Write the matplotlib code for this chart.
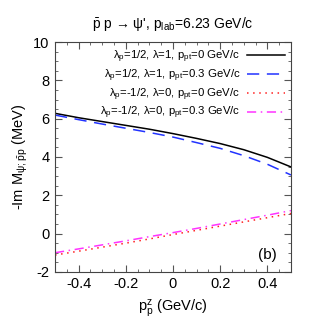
import numpy as np
import matplotlib
matplotlib.use("Agg")
import matplotlib.pyplot as plt
from matplotlib.ticker import MultipleLocator

plt.rcParams['font.family'] = ['Liberation Sans', 'DejaVu Sans']
plt.rcParams['mathtext.fontset'] = 'custom'
plt.rcParams['mathtext.rm'] = 'Liberation Sans'
plt.rcParams['mathtext.it'] = 'Liberation Sans:italic'
plt.rcParams['mathtext.default'] = 'regular'

# data
pz = [-0.5, -0.4, -0.3, -0.2, -0.1, 0.0, 0.1, 0.2, 0.3, 0.4, 0.5]
m_half_pt0 = [6.28, 6.05, 5.85, 5.65, 5.45, 5.22, 4.97, 4.70, 4.38, 3.98, 3.48]
m_half_pt03 = [6.19, 5.95, 5.72, 5.50, 5.28, 5.04, 4.75, 4.45, 4.07, 3.62, 3.06]
m_mhalf_pt0 = [-1.12, -0.92, -0.71, -0.50, -0.28, -0.05, 0.17, 0.39, 0.61, 0.83, 1.05]
m_mhalf_pt03 = [-1.00, -0.80, -0.59, -0.38, -0.16, 0.05, 0.27, 0.50, 0.73, 0.96, 1.20]

labels = [r'$\lambda_p$=1/2, $\lambda$=1, $p_{pt}$=0 GeV/c',
          r'$\lambda_p$=1/2, $\lambda$=1, $p_{pt}$=0.3 GeV/c',
          r'$\lambda_p$=-1/2, $\lambda$=0, $p_{pt}$=0 GeV/c',
          r'$\lambda_p$=-1/2, $\lambda$=0, $p_{pt}$=0.3 GeV/c']

fig = plt.figure(figsize=(3.18, 3.34), dpi=100)
ax = fig.add_axes([0.173, 0.186, 0.742, 0.688])

ax.plot(pz, m_half_pt0, color='black', lw=1.1, label=labels[0])
ax.plot(pz, m_half_pt03, color='#2233ff', lw=1.1, dashes=(8, 5), label=labels[1])
ax.plot(pz, m_mhalf_pt0, color='#ff2020', lw=1.1, dashes=(1, 3), label=labels[2])
ax.plot(pz, m_mhalf_pt03, color='#ff33ff', lw=1.1, dashes=(6, 3, 1, 3), label=labels[3])

ax.set_xlim(-0.5, 0.5)
ax.set_ylim(-2, 10)
ax.xaxis.set_minor_locator(MultipleLocator(0.05))
ax.yaxis.set_minor_locator(MultipleLocator(0.5))
ax.set_xticks([-0.4, -0.2, 0, 0.2, 0.4])
ax.set_xticklabels(['-0.4', '-0.2', '0', '0.2', '0.4'])
ax.set_yticks([-2, 0, 2, 4, 6, 8, 10])
ax.set_yticklabels(['-2', '0', '2', '4', '6', '8', '10'])
ax.tick_params(which='both', direction='in', top=True, right=True, labelsize=10.5, color='#555555')
ax.tick_params(which='major', length=5, pad=4)
ax.tick_params(which='minor', length=2.5)
for s in ax.spines.values():
    s.set_color('#444444')
    s.set_linewidth(0.8)

ax.set_title("$\\bar{p}$ p \u2192 \u03c8', p$_{lab}$=6.23 GeV/c", fontsize=10, pad=10)
ax.set_xlabel(r'$p_p^z$ (GeV/c)', fontsize=10.5)
ax.set_ylabel(r'-Im $M_{\psi;\bar{p}p}$ (MeV)', fontsize=10.5, labelpad=2)
ax.text(0.40, -1.1, '(b)', fontsize=11, ha='center', va='center')

ax.legend(loc='upper right', frameon=False, markerfirst=False, fontsize=8.2,
          handlelength=3.3, handletextpad=0.6, labelspacing=0.22,
          borderaxespad=0.15, borderpad=0.4)

fig.savefig('out.png', dpi=100)
